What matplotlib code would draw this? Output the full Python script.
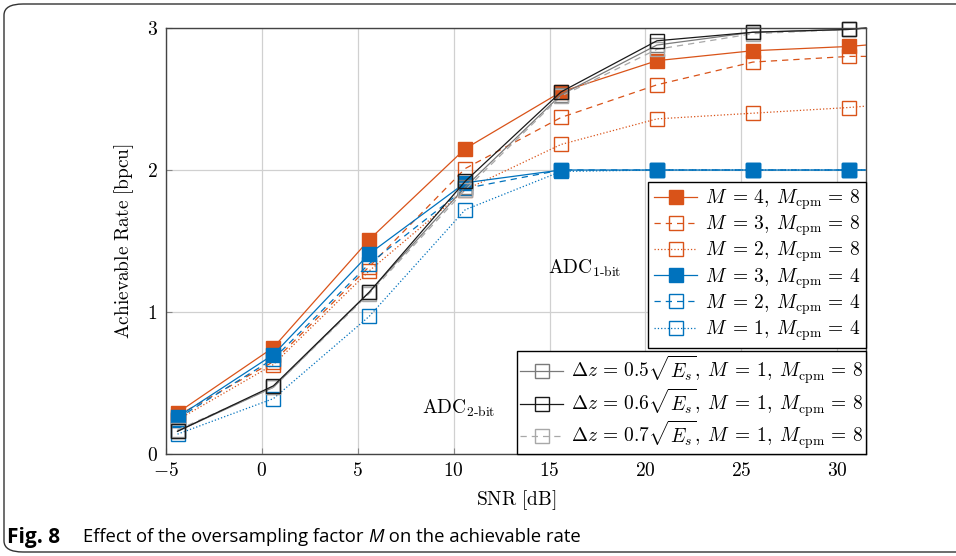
import numpy as np
import matplotlib.pyplot as plt
from matplotlib.patches import FancyBboxPatch

plt.rcParams['mathtext.fontset'] = 'cm'
plt.rcParams['font.family'] = 'serif'
plt.rcParams['font.serif'] = ['cmr10', 'DejaVu Serif']
plt.rcParams['axes.formatter.use_mathtext'] = True

# SNR points where the markers sit
snr = [-4.4, 0.6, 5.6, 10.6, 15.6, 20.6, 25.6, 30.6]
snr_end = 31.5  # curves run on to the right edge

# 1-bit ADC, M_cpm = 8 (orange) and M_cpm = 4 (blue)
m4_cpm8 = [0.29, 0.75, 1.51, 2.15, 2.55, 2.77, 2.84, 2.87]
m3_cpm8 = [0.27, 0.65, 1.32, 2.01, 2.37, 2.60, 2.76, 2.80]
m2_cpm8 = [0.24, 0.63, 1.29, 1.86, 2.18, 2.36, 2.40, 2.44]
m3_cpm4 = [0.26, 0.70, 1.41, 1.91, 2.00, 2.00, 2.00, 2.00]
m2_cpm4 = [0.25, 0.67, 1.34, 1.87, 2.00, 2.00, 2.00, 2.00]
m1_cpm4 = [0.14, 0.39, 0.97, 1.72, 1.99, 2.00, 2.00, 2.00]
end_1bit = [2.88, 2.80, 2.45, 2.00, 2.00, 2.00]

# 2-bit ADC, M = 1, M_cpm = 8, different step sizes
dz05 = [0.16, 0.47, 1.14, 1.88, 2.53, 2.88, 2.97, 2.99]
dz06 = [0.16, 0.48, 1.14, 1.92, 2.55, 2.91, 2.97, 2.99]
dz07 = [0.17, 0.47, 1.13, 1.86, 2.52, 2.85, 2.96, 2.99]
end_2bit = [3.0, 3.0, 3.0]

orange = '#D95319'
blue = '#0072BD'

fig = plt.figure(figsize=(9.56, 5.56), dpi=100)
ax = fig.add_axes([166/956, 1-454/556, 700/956, 426/556])

xs = snr + [snr_end]

def curve(y, yend, color, ls, filled, label, lw=0.9):
    ax.plot(xs, y + [yend], color=color, ls=ls, lw=lw, marker='s',
            markersize=10 if filled else 9.5,
            markerfacecolor=color if filled else 'none',
            markeredgecolor=color, markeredgewidth=1.0,
            markevery=slice(0, len(snr)), label=label, clip_on=False)

lab8 = r'$M\;=\,%d,\;M_{\rm cpm}\,=\,8$'
lab4 = r'$M\;=\,%d,\;M_{\rm cpm}\,=\,4$'
labdz = r'$\Delta z\,=\,%s\sqrt{E_s},\;M\;=\,1,\;M_{\rm cpm}\,=\,8$'
curve(m4_cpm8, end_1bit[0], orange, '-', True, lab8 % 4)
curve(m3_cpm8, end_1bit[1], orange, (0, (5, 4)), False, lab8 % 3)
curve(m2_cpm8, end_1bit[2], orange, ':', False, lab8 % 2)
curve(m2_cpm4, end_1bit[4], blue, (0, (5, 4)), False, lab4 % 2)
curve(m1_cpm4, end_1bit[5], blue, ':', False, lab4 % 1)
curve(m3_cpm4, end_1bit[3], blue, '-', True, lab4 % 3)
curve(dz05, end_2bit[0], '#7a7a7a', '-', False, labdz % '0.5')
curve(dz07, end_2bit[2], '#a8a8a8', (0, (5, 4)), False, labdz % '0.7')
curve(dz06, end_2bit[1], '#1a1a1a', '-', False, labdz % '0.6')

ax.set_xlim(-5, snr_end)
ax.set_ylim(0, 3)
ax.set_xticks([-5, 0, 5, 10, 15, 20, 25, 30])
ax.set_yticks([0, 1, 2, 3])
ax.set_xticklabels([r'$-5$', r'$0$', r'$5$', r'$10$', r'$15$', r'$20$', r'$25$', r'$30$'])
ax.set_yticklabels([r'$0$', r'$1$', r'$2$', r'$3$'])
ax.tick_params(direction='in', length=4, color='#888888', labelsize=14, pad=6)
ax.grid(True, color='#d0d0d0', lw=0.9)
for s in ax.spines.values():
    s.set_color('#444444')
    s.set_linewidth(1.0)

ax.set_xlabel(r'$\mathrm{SNR\ [dB]}$', fontsize=14, labelpad=6)
ax.set_ylabel(r'$\mathrm{Achievable\ Rate\ [bpcu]}$', fontsize=14, labelpad=8)

ax.text(14.9, 1.31, r'$\mathrm{ADC}_{\mathrm{1\text{-}bit}}$', fontsize=14, va='center', ha='left')
ax.text(8.33, 0.32, r'$\mathrm{ADC}_{\mathrm{2\text{-}bit}}$', fontsize=14, va='center', ha='left')

h, l = ax.get_legend_handles_labels()
order1 = [0, 1, 2, 5, 3, 4]
leg1 = ax.legend([h[i] for i in order1], [l[i] for i in order1],
                 loc='upper right', bbox_to_anchor=(1.0, (454-182)/426),
                 fontsize=14, frameon=True, fancybox=False, edgecolor='black',
                 framealpha=1, borderaxespad=0, handlelength=2.2,
                 labelspacing=0.08, borderpad=0.3, handletextpad=0.4)
leg1.get_frame().set_linewidth(1.0)
ax.add_artist(leg1)
order2 = [6, 8, 7]
leg2 = ax.legend([h[i] for i in order2], [l[i] for i in order2],
                 loc='lower right', bbox_to_anchor=(1.0, 0.0),
                 fontsize=14, frameon=True, fancybox=False, edgecolor='black',
                 framealpha=1, borderaxespad=0, handlelength=2.2,
                 labelspacing=0.0, borderpad=0.15, handletextpad=0.4)
leg2.get_frame().set_linewidth(1.0)

# rounded frame around figure and caption
frame = FancyBboxPatch((4/956, 4/556), 1.2, 548/556, transform=fig.transFigure,
                       boxstyle='round,pad=0,rounding_size=0.02',
                       fill=False, edgecolor='#333333', lw=1.0, clip_on=False)
fig.patches.append(frame)

cy = 1 - 537/556
fig.text(7/956, cy, 'Fig. 8', fontsize=15, fontweight='bold',
         family='Open Sans', va='center', ha='left')
t1 = fig.text(83/956, cy, 'Effect of the oversampling factor ', fontsize=13.3,
              family='Open Sans', va='center', ha='left')

# rest of caption placed after measuring the first part
fig.canvas.draw()
r = fig.canvas.get_renderer()
bb = t1.get_window_extent(renderer=r)
tM = fig.text(bb.x1/956, cy, 'M', fontsize=13.3, family='Open Sans',
              style='italic', va='center', ha='left')
bbM = tM.get_window_extent(renderer=r)
fig.text(bbM.x1/956, cy, ' on the achievable rate', fontsize=13.3,
         family='Open Sans', va='center', ha='left')

fig.savefig('out.png', dpi=100)
